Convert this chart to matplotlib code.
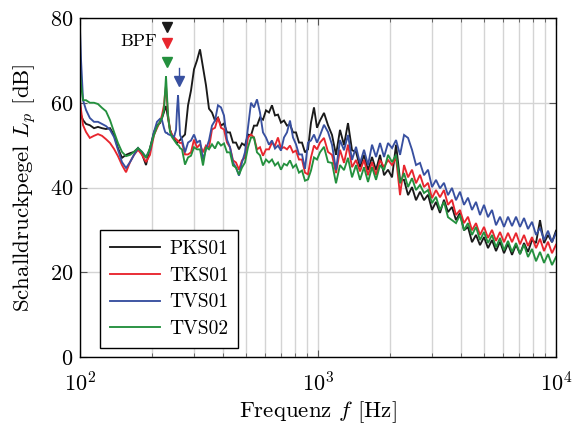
import matplotlib
matplotlib.use("Agg")
import matplotlib.pyplot as plt
from matplotlib.ticker import LogLocator, NullFormatter, FixedLocator

plt.rcParams['font.family'] = 'serif'
plt.rcParams['font.serif'] = ['cmr10', 'DejaVu Serif']
plt.rcParams['mathtext.fontset'] = 'cm'
plt.rcParams['axes.formatter.use_mathtext'] = True
plt.rcParams['font.size'] = 16

# ---------------- data ----------------
freq = [100, 101, 103, 106, 110, 114.5, 119, 123.7, 128.6, 133.7, 139, 144.4, 150.1, 156.1,
        162.3, 168.6, 175.3, 182.2, 189.4, 196.8, 204.6, 210.6, 216.8, 221.1, 225.4, 228,
        229.8, 232, 234.3, 238.9, 243.5, 248.3, 253.2, 255.6, 258.2, 260.6, 263.2,
        268.3, 276.2, 284.4, 292.7, 301.3, 310.2, 319.3, 328.7, 338.4, 348.3, 358.6, 369.2,
        380, 391.2, 402.7, 414.6, 426.8, 439.4, 452.3, 465.6, 479.3, 493.4, 508, 523, 538.3,
        554.2, 570.5, 587.3, 604.6, 622.4, 640.7, 659.6, 679, 699, 719.6, 740.8, 762.6,
        785.1, 808.2, 832, 856.5, 881.7, 907.7, 934.4, 962, 990.4, 1019.5,
        1059.7, 1101.6, 1145.1, 1190.3, 1237.4, 1286.3, 1336.6, 1389.9, 1444.7, 1501.6,
        1560.9, 1622.5, 1686.6, 1753.2, 1822.4, 1894.4, 1969.2, 2046.9, 2127.7, 2211.8,
        2299.1, 2389.9, 2483.1, 2581.1, 2683.1, 2789, 2899.1, 3013, 3131.6, 3255.1, 3383.3,
        3516.9, 3655.8, 3800, 3950, 4106, 4268, 4437, 4612, 4794, 4983, 5180, 5384, 5597,
        5818, 6047, 6286, 6534, 6792, 7060, 7339, 7629, 7929, 8242, 8567, 8906, 9256, 9621,
        10000]

pks01 = [59.5, 57.1, 55.9, 55.0, 54.7, 54.0, 54.3, 54.0, 53.8, 54.0, 52.4, 49.3, 47.0, 47.7,
         48.1, 48.4, 49.3, 47.9, 45.3, 49.3, 53.1, 54.7, 55.2, 56.4, 57.8, 58.8, 59.2, 57.8,
         56.4, 53.6, 52.4, 51.7, 50.7, 50.5, 50.7, 51.0, 51.2,
         51.8, 52.5, 59.4, 62.9, 67.9, 70.0, 72.6, 68.3, 64.1, 58.6, 57.7, 55.8, 56.5, 54.6,
         55.1, 53.0, 53.0, 50.6, 50.6, 49.0, 50.4, 49.9, 52.5, 52.3, 54.6, 54.6, 56.5, 56.0,
         58.2, 57.7, 59.4, 57.0, 57.2, 55.3, 55.8, 54.6, 54.9, 53.0, 53.0, 50.6, 50.6, 48.3,
         49.0, 55.3, 58.9, 54.1, 55.8,
         57.6, 54.7, 52.4, 47.7, 53.6, 50.0, 55.2, 48.8, 48.4, 44.8, 47.7, 44.1, 47.2, 44.1,
         47.7, 42.9, 44.2, 42.4, 50.1, 41.8, 41.8, 38.2, 40.1, 37.0, 39.0, 37.0, 38.3, 34.7,
         36.6, 34.0, 37.1, 34.2, 35.4, 32.3, 34.0, 29.9, 30.7, 27.1, 28.8, 26.4, 28.3, 25.7,
         27.6, 25.0, 27.2, 24.5, 26.7, 24.1, 26.5, 24.3, 26.9, 24.8, 27.6, 26.9, 32.3, 26.9,
         28.8, 27.1, 29.8]

tks01 = [60.6, 58.3, 54.7, 53.1, 51.7, 52.2, 52.6, 52.2, 51.4, 50.5, 49.1, 47.4, 45.3, 43.6,
         46.0, 47.7, 48.9, 47.7, 46.0, 47.7, 52.4, 54.0, 55.5, 57.1, 59.5, 62.5, 64.0, 60.6,
         57.1, 53.6, 52.4, 51.9, 51.4, 51.2, 51.0, 50.7, 50.5,
         50.6, 47.8, 47.8, 48.3, 51.3, 49.4, 50.2, 48.3, 49.9, 49.4, 53.7, 54.1, 56.5, 54.1,
         53.7, 50.6, 49.5, 46.4, 45.9, 44.2, 46.4, 47.1, 51.8, 52.5, 51.8, 49.0, 49.5, 47.5,
         49.0, 49.0, 50.6, 49.9, 51.8, 49.2, 49.5, 49.0, 49.9, 48.3, 48.7, 46.6, 46.6, 43.5,
         43.1, 47.1, 49.9, 49.0, 50.6,
         51.7, 48.4, 47.7, 43.4, 48.9, 45.8, 50.1, 44.8, 46.5, 43.8, 46.5, 42.9, 46.0, 42.9,
         46.5, 44.8, 46.5, 45.3, 47.0, 38.2, 45.3, 42.4, 44.2, 41.0, 43.0, 40.1, 41.1, 37.5,
         39.4, 37.7, 39.4, 35.9, 37.1, 33.5, 34.7, 31.6, 33.1, 29.9, 31.6, 28.8, 30.7, 28.1,
         30.0, 27.4, 29.5, 27.1, 29.3, 27.1, 29.3, 26.6, 28.8, 26.2, 28.3, 25.7, 27.9, 25.0,
         27.2, 24.5, 26.5]

tvs01 = [77.2, 70.1, 60.6, 58.3, 56.4, 55.5, 55.5, 55.0, 54.5, 53.6, 51.9, 48.9, 46.0, 44.6,
         46.0, 47.7, 49.3, 48.4, 47.2, 48.9, 53.1, 55.5, 56.2, 55.9, 54.0, 53.1, 52.9, 52.9,
         52.6, 52.4, 52.2, 51.9, 53.6, 58.3, 61.8, 57.1, 52.4,
         51.3, 48.3, 50.6, 51.1, 52.5, 50.6, 51.1, 46.6, 49.0, 51.1, 54.6, 55.8, 59.4, 58.9,
         57.0, 51.3, 49.5, 45.9, 44.7, 42.8, 45.9, 48.3, 54.2, 60.0, 58.9, 60.8, 57.7, 53.0,
         51.8, 50.1, 51.1, 49.2, 49.9, 48.7, 51.8, 53.0, 55.8, 51.8, 50.2, 47.8, 47.8, 44.4,
         50.6, 51.1, 52.5, 50.6, 52.3,
         54.8, 53.1, 50.1, 44.1, 51.2, 48.8, 52.4, 46.5, 49.6, 45.7, 48.9, 45.3, 50.1, 47.2,
         50.5, 47.2, 50.5, 49.3, 51.2, 47.7, 52.4, 51.7, 48.9, 45.3, 45.8, 42.9, 44.2, 40.1,
         41.8, 39.8, 41.1, 38.2, 39.9, 37.0, 39.0, 35.9, 37.6, 34.7, 36.6, 33.5, 35.9, 33.0,
         34.7, 31.1, 33.1, 30.7, 33.1, 30.9, 33.1, 30.7, 32.8, 30.2, 31.9, 28.8, 30.5, 27.6,
         29.8, 27.1, 29.3]

tvs02 = [67.3, 64.2, 60.6, 60.6, 60.0, 60.0, 59.7, 58.8, 58.0, 55.9, 53.1, 50.5, 48.4, 47.4,
         47.7, 48.4, 49.3, 48.4, 47.0, 49.3, 52.4, 54.3, 55.5, 56.4, 58.3, 63.0, 66.3, 61.8,
         57.1, 53.1, 51.9, 51.2, 50.5, 50.2, 50.0, 49.8, 49.3,
         49.0, 45.4, 47.1, 47.5, 49.5, 49.0, 49.0, 45.2, 49.5, 49.0, 50.2, 49.2, 50.8, 49.9,
         50.4, 48.3, 48.3, 45.2, 44.7, 43.0, 44.7, 45.9, 49.5, 51.8, 51.8, 48.3, 47.6, 45.2,
         46.6, 45.9, 46.6, 45.2, 45.9, 44.2, 45.6, 45.2, 46.4, 44.7, 45.4, 43.5, 44.0, 41.6,
         41.9, 44.0, 47.1, 46.6, 48.3,
         49.6, 46.0, 45.8, 41.0, 45.3, 44.1, 47.0, 42.4, 45.3, 41.8, 44.8, 41.3, 44.8, 41.8,
         45.3, 44.1, 47.7, 46.0, 47.7, 41.0, 43.4, 40.1, 42.2, 39.4, 40.6, 38.7, 39.4, 36.3,
         37.8, 34.7, 36.6, 33.0, 32.3, 31.6, 33.5, 29.9, 31.6, 28.8, 30.7, 27.6, 29.5, 26.9,
         28.8, 25.9, 28.1, 25.2, 27.4, 24.8, 26.9, 24.3, 26.5, 23.6, 25.5, 22.6, 24.8, 22.2,
         24.3, 21.7, 23.6]

series_names = ["PKS01", "TKS01", "TVS01", "TVS02"]
series_colors = ["#1a1a1a", "#e8262e", "#3850a0", "#24903e"]

# blade passing frequency markers (PKS01, TKS01, TVS02, TVS01)
bpf_freq = [232, 232, 232, 260]
bpf_level = [77.8, 74.0, 69.6, 65.2]
bpf_colors = [series_colors[0], series_colors[1], series_colors[3], series_colors[2]]
bpf_stem_top = 68.3

for name, arr in zip(series_names, [pks01, tks01, tvs01, tvs02]):
    assert len(arr) == len(freq), (name, len(arr), len(freq))

# ---------------- plot ----------------
fig = plt.figure(figsize=(5.74, 4.28), dpi=100)
ax = fig.add_axes([80/574, 1 - 357/428, 476/574, 339/428])

for name, arr, col in zip(series_names, [pks01, tks01, tvs01, tvs02], series_colors):
    ax.plot(freq, arr, color=col, lw=1.35, label=name, solid_joinstyle='miter')

# BPF markers
ax.plot([bpf_freq[3], bpf_freq[3]], [bpf_level[3], bpf_stem_top], color=bpf_colors[3], lw=1.0)
for f, l, col in zip(bpf_freq, bpf_level, bpf_colors):
    ax.plot([f], [l], marker='v', color=col, markersize=7, linestyle='none')
ax.text(211, 74.6, "BPF", ha='right', va='center', fontsize=13)

ax.set_xscale('log')
ax.set_xlim(100, 10000)
ax.set_ylim(0, 80)
ax.yaxis.set_major_locator(FixedLocator([0, 20, 40, 60, 80]))
ax.xaxis.set_major_locator(LogLocator(base=10))
ax.xaxis.set_minor_locator(LogLocator(base=10, subs=range(2, 10)))
ax.xaxis.set_minor_formatter(NullFormatter())

ax.grid(True, which='major', color='#d4d4d4', lw=1.0)
ax.grid(True, which='minor', axis='x', color='#d4d4d4', lw=1.0)
ax.set_axisbelow(True)

ax.tick_params(which='both', direction='in', top=True, right=True, color='#555555')
ax.tick_params(which='major', length=5, labelsize=16)
ax.tick_params(axis='y', which='major', pad=5)
ax.tick_params(axis='x', which='major', pad=10)
ax.tick_params(which='minor', length=3)
for s in ax.spines.values():
    s.set_color('black')
    s.set_linewidth(1.0)

ax.set_xlabel(r"Frequenz $f$ [Hz]", fontsize=16.5, labelpad=3)
ax.set_ylabel(r"Schalldruckpegel $L_p$ [dB]", fontsize=16.5, labelpad=8)

leg = ax.legend(loc='lower left', bbox_to_anchor=(0.042, 0.027), borderaxespad=0,
                fancybox=False, edgecolor='black', framealpha=1, fontsize=14,
                handlelength=2.6, labelspacing=0.45, borderpad=0.5, handletextpad=0.45)
leg.get_frame().set_linewidth(1.0)

fig.savefig("out.png", dpi=100)
